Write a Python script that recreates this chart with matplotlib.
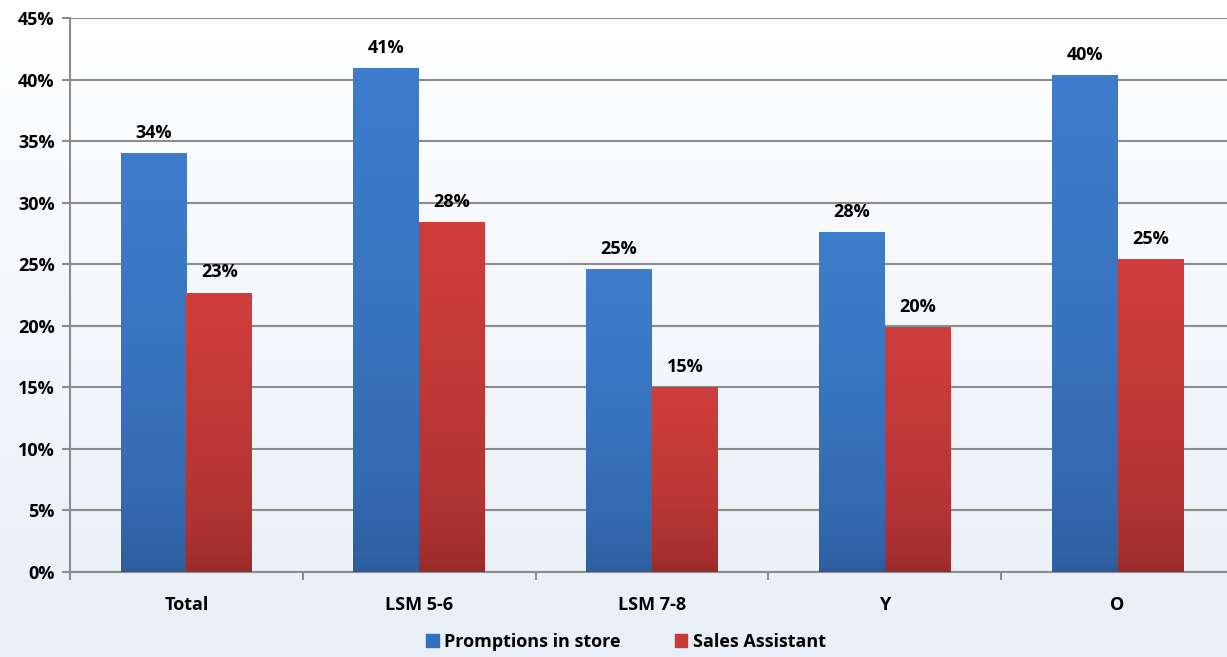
import matplotlib
matplotlib.use("Agg")
import matplotlib.pyplot as plt
import numpy as np
from matplotlib.colors import LinearSegmentedColormap
from matplotlib.patches import Patch

categories = ["Total", "LSM 5-6", "LSM 7-8", "Y", "O"]
promotions = [34.0, 40.9, 24.6, 27.6, 40.4]
sales_assistant = [22.7, 28.4, 15.0, 19.9, 25.4]
series_names = ["Promptions in store", "Sales Assistant"]

plt.rcParams["font.family"] = ["Open Sans", "DejaVu Sans"]

fig = plt.figure(figsize=(12.27, 6.57), dpi=100)

# faint background wash
bg = fig.add_axes([0, 0, 1, 1], zorder=-10)
bg.imshow(np.linspace(0, 1, 100).reshape(-1, 1),
          cmap=LinearSegmentedColormap.from_list("bg", ["#ffffff", "#e9eff6"]),
          aspect="auto", extent=[0, 1, 0, 1], origin="upper")
bg.axis("off")

ax = fig.add_axes([70 / 1227, 1 - 572 / 657, 1164 / 1227, (572 - 18) / 657])
ax.patch.set_alpha(0)

x = np.arange(len(categories))
w = 0.283


def gradient_bars(xs, vals, top, bottom):
    # smooth vertical gradient, clipped to each bar
    cmap = LinearSegmentedColormap.from_list("g", [bottom, top])
    ramp = np.sqrt(np.linspace(0, 1, 200)).reshape(-1, 1)
    bars = ax.bar(xs, vals, w, color=top, zorder=3)
    for b in bars:
        x0, y0 = b.get_x(), b.get_y()
        x1, y1 = x0 + b.get_width(), y0 + b.get_height()
        im = ax.imshow(ramp, cmap=cmap, aspect="auto",
                       extent=[x0, x1, y0, y1], origin="lower", zorder=4)
        im.set_clip_path(b)
    return bars


gradient_bars(x - w / 2, promotions, "#3d7dcc", "#2c5b9a")
gradient_bars(x + w / 2, sales_assistant, "#cf3e3c", "#952a2a")

for xi, v in zip(x - w / 2, promotions):
    ax.text(xi, v + 0.9, f"{v:.0f}%", ha="center", va="bottom",
            fontsize=13, fontweight="bold", zorder=5)
for xi, v in zip(x + w / 2, sales_assistant):
    ax.text(xi, v + 0.9, f"{v:.0f}%", ha="center", va="bottom",
            fontsize=13, fontweight="bold", zorder=5)

ax.set_xlim(-0.5, len(categories) - 0.5)
ax.set_ylim(0, 45)
ax.set_yticks(np.arange(0, 46, 5))
ax.set_yticklabels([f"{t}%" for t in range(0, 46, 5)], fontsize=13,
                   fontweight="bold")
ax.set_xticks(x)
ax.set_xticklabels(categories, fontsize=13, fontweight="bold")
ax.tick_params(axis="x", length=0, pad=17)
ax.set_xticks(np.arange(-0.5, len(categories)), minor=True)
ax.tick_params(axis="x", which="minor", length=6, color="#8c8c8c", width=1.5)
ax.tick_params(axis="y", length=6, color="#8c8c8c", width=1.5, pad=5)
ax.grid(axis="y", color="#8c8c8c", linewidth=1.5, zorder=0)
ax.set_axisbelow(True)
for s in ["top", "right"]:
    ax.spines[s].set_visible(False)
for s in ["left", "bottom"]:
    ax.spines[s].set_color("#8c8c8c")
    ax.spines[s].set_linewidth(1.5)

handles = [Patch(color="#3370bb"), Patch(color="#c83a38")]
fig.legend(handles, series_names, loc="center", bbox_to_anchor=(0.51, 1 - 642 / 657),
           ncol=2, frameon=False, prop={"weight": "bold", "size": 13},
           handlelength=0.7, handleheight=0.7, handletextpad=0.3, columnspacing=3)

fig.savefig("out.png", dpi=100)
